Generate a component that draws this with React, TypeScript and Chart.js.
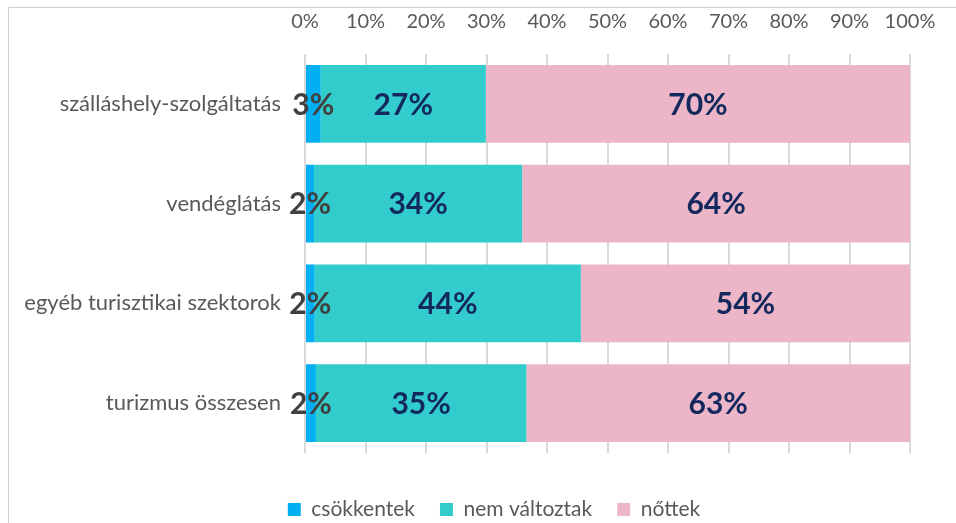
import React, { useEffect, useRef } from "react";
import { Chart, registerables } from "chart.js";

Chart.register(...registerables);

const categories = [
  "szálláshely-szolgáltatás",
  "vendéglátás",
  "egyéb turisztikai szektorok",
  "turizmus összesen",
];
const seriesNames = ["csökkentek", "nem változtak", "nőttek"];
const decreased = [2.6, 1.5, 1.6, 1.8];
const unchanged = [27.3, 34.4, 44.0, 34.8];
const increased = [70.1, 64.1, 54.4, 63.4];
const xTickValues = [0, 10, 20, 30, 40, 50, 60, 70, 80, 90, 100];

const seriesColors = ["#00B0F0", "#33CCCC", "#ECB6C8"];
const valueLabelColors = ["#404040", "#13295E", "#13295E"];
const FONT = "Lato";

const framePlugin = {
  id: "frame",
  beforeDraw(chart: any) {
    const ctx = chart.ctx;
    ctx.save();
    ctx.strokeStyle = "#D0D0D0";
    ctx.lineWidth = 1;
    ctx.beginPath();
    ctx.moveTo(8.5, chart.height);
    ctx.lineTo(8.5, 7.5);
    ctx.lineTo(chart.width, 7.5);
    ctx.stroke();
    ctx.restore();
  },
};

const valueLabelPlugin = {
  id: "valueLabels",
  afterDatasetsDraw(chart: any) {
    const ctx = chart.ctx;
    ctx.save();
    ctx.font = `bold 30px ${FONT}`;
    ctx.textAlign = "center";
    ctx.textBaseline = "middle";
    chart.data.datasets.forEach((ds: any, di: number) => {
      const meta = chart.getDatasetMeta(di);
      meta.data.forEach((el: any, i: number) => {
        const { x, y, base } = el.getProps(["x", "y", "base"], true);
        ctx.fillStyle = valueLabelColors[di];
        ctx.fillText(`${Math.round(ds.data[i])}%`, (x + base) / 2, y + 1);
      });
    });
    ctx.restore();
  },
};

export default function App() {
  const ref = useRef<HTMLCanvasElement | null>(null);

  useEffect(() => {
    if (!ref.current) return;
    const seriesData = [decreased, unchanged, increased];
    const chart = new Chart(ref.current, {
      type: "bar",
      data: {
        labels: categories,
        datasets: seriesNames.map((name, i) => ({
          label: name,
          data: seriesData[i],
          backgroundColor: seriesColors[i],
          borderWidth: 0,
          barPercentage: 0.78,
          categoryPercentage: 1,
        })),
      },
      options: {
        indexAxis: "y",
        animation: false,
        responsive: false,
        layout: { padding: { left: 8, right: 0, top: 0, bottom: 0 } },
        plugins: {
          title: { display: false },
          tooltip: { enabled: false },
          legend: {
            display: true,
            position: "bottom",
            title: {
              display: true,
              text: " ",
              font: { size: 10, family: FONT, lineHeight: 1 },
              padding: { top: 5, bottom: 6 },
            },
            labels: {
              color: "#595959",
              font: { size: 21, family: FONT },
              boxWidth: 13,
              boxHeight: 13,
              padding: 25,
            },
          },
        },
        scales: {
          x: {
            type: "linear",
            position: "top",
            stacked: true,
            min: 0,
            max: 100,
            afterBuildTicks: (s: any) => {
              s.ticks = xTickValues.map((v) => ({ value: v }));
            },
            afterFit: (s: any) => {
              s.height = 54;
              s.paddingRight = 70;
            },
            ticks: {
              callback: (v: any) => `${v}%`,
              color: "#595959",
              font: { size: 20, family: FONT },
              padding: 20,
              maxRotation: 0,
              autoSkip: false,
            },
            grid: { color: "#D9D9D9", lineWidth: 2, drawTicks: false },
            border: { display: false },
          },
          y: {
            stacked: true,
            afterFit: (s: any) => {
              s.width = 297;
            },
            ticks: {
              color: "#595959",
              font: { size: 22, family: FONT },
              padding: 24,
            },
            grid: { display: false, drawTicks: false },
            border: { display: false },
          },
        },
      },
      plugins: [framePlugin, valueLabelPlugin],
    } as any);
    return () => chart.destroy();
  }, []);

  return (
    <div
      style={{
        position: "fixed",
        left: 0,
        top: 0,
        width: "100vw",
        height: "100vh",
        overflow: "hidden",
        background: "#ffffff",
      }}
    >
      <canvas
        ref={ref}
        width={980}
        height={530}
        style={{ position: "absolute", left: 0, top: 0, width: 980, height: 530, display: "block" }}
      />
    </div>
  );
}
